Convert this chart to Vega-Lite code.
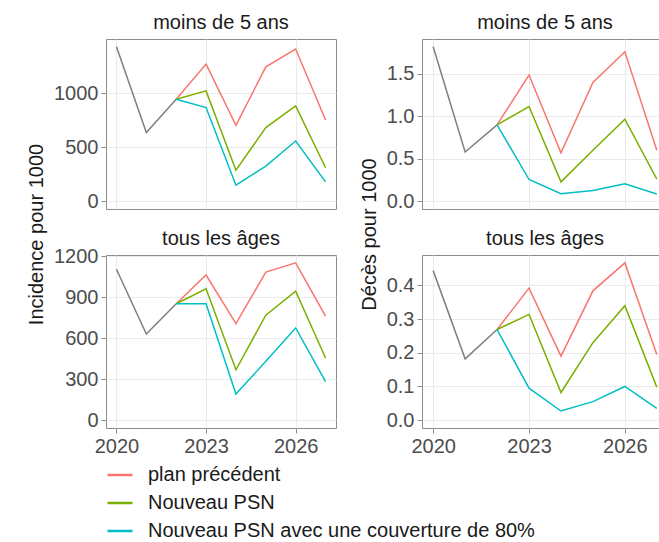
{
  "$schema": "https://vega.github.io/schema/vega-lite/v6.json",
  "padding": {"left": 27, "top": 12, "right": 0, "bottom": 0},
  "background": "white",
  "data": {"values": [
    {"panel": "iu5", "series": "historique", "year": 2020, "value": 1430},
    {"panel": "iu5", "series": "historique", "year": 2021, "value": 636},
    {"panel": "iu5", "series": "historique", "year": 2022, "value": 945},
    {"panel": "iu5", "series": "plan précédent", "year": 2022, "value": 945},
    {"panel": "iu5", "series": "plan précédent", "year": 2023, "value": 1270},
    {"panel": "iu5", "series": "plan précédent", "year": 2024, "value": 703},
    {"panel": "iu5", "series": "plan précédent", "year": 2025, "value": 1245},
    {"panel": "iu5", "series": "plan précédent", "year": 2026, "value": 1410},
    {"panel": "iu5", "series": "plan précédent", "year": 2027, "value": 753},
    {"panel": "iu5", "series": "Nouveau PSN", "year": 2022, "value": 945},
    {"panel": "iu5", "series": "Nouveau PSN", "year": 2023, "value": 1022},
    {"panel": "iu5", "series": "Nouveau PSN", "year": 2024, "value": 288},
    {"panel": "iu5", "series": "Nouveau PSN", "year": 2025, "value": 682},
    {"panel": "iu5", "series": "Nouveau PSN", "year": 2026, "value": 883},
    {"panel": "iu5", "series": "Nouveau PSN", "year": 2027, "value": 310},
    {"panel": "iu5", "series": "Nouveau PSN avec une couverture de 80%", "year": 2022, "value": 945},
    {"panel": "iu5", "series": "Nouveau PSN avec une couverture de 80%", "year": 2023, "value": 868},
    {"panel": "iu5", "series": "Nouveau PSN avec une couverture de 80%", "year": 2024, "value": 149},
    {"panel": "iu5", "series": "Nouveau PSN avec une couverture de 80%", "year": 2025, "value": 325},
    {"panel": "iu5", "series": "Nouveau PSN avec une couverture de 80%", "year": 2026, "value": 558},
    {"panel": "iu5", "series": "Nouveau PSN avec une couverture de 80%", "year": 2027, "value": 180},

    {"panel": "du5", "series": "historique", "year": 2020, "value": 1.82},
    {"panel": "du5", "series": "historique", "year": 2021, "value": 0.58},
    {"panel": "du5", "series": "historique", "year": 2022, "value": 0.90},
    {"panel": "du5", "series": "plan précédent", "year": 2022, "value": 0.90},
    {"panel": "du5", "series": "plan précédent", "year": 2023, "value": 1.486},
    {"panel": "du5", "series": "plan précédent", "year": 2024, "value": 0.57},
    {"panel": "du5", "series": "plan précédent", "year": 2025, "value": 1.40},
    {"panel": "du5", "series": "plan précédent", "year": 2026, "value": 1.76},
    {"panel": "du5", "series": "plan précédent", "year": 2027, "value": 0.60},
    {"panel": "du5", "series": "Nouveau PSN", "year": 2022, "value": 0.90},
    {"panel": "du5", "series": "Nouveau PSN", "year": 2023, "value": 1.116},
    {"panel": "du5", "series": "Nouveau PSN", "year": 2024, "value": 0.229},
    {"panel": "du5", "series": "Nouveau PSN", "year": 2025, "value": 0.60},
    {"panel": "du5", "series": "Nouveau PSN", "year": 2026, "value": 0.966},
    {"panel": "du5", "series": "Nouveau PSN", "year": 2027, "value": 0.26},
    {"panel": "du5", "series": "Nouveau PSN avec une couverture de 80%", "year": 2022, "value": 0.90},
    {"panel": "du5", "series": "Nouveau PSN avec une couverture de 80%", "year": 2023, "value": 0.256},
    {"panel": "du5", "series": "Nouveau PSN avec une couverture de 80%", "year": 2024, "value": 0.09},
    {"panel": "du5", "series": "Nouveau PSN avec une couverture de 80%", "year": 2025, "value": 0.126},
    {"panel": "du5", "series": "Nouveau PSN avec une couverture de 80%", "year": 2026, "value": 0.205},
    {"panel": "du5", "series": "Nouveau PSN avec une couverture de 80%", "year": 2027, "value": 0.085},

    {"panel": "ia", "series": "historique", "year": 2020, "value": 1103},
    {"panel": "ia", "series": "historique", "year": 2021, "value": 630},
    {"panel": "ia", "series": "historique", "year": 2022, "value": 851},
    {"panel": "ia", "series": "plan précédent", "year": 2022, "value": 851},
    {"panel": "ia", "series": "plan précédent", "year": 2023, "value": 1061},
    {"panel": "ia", "series": "plan précédent", "year": 2024, "value": 706},
    {"panel": "ia", "series": "plan précédent", "year": 2025, "value": 1083},
    {"panel": "ia", "series": "plan précédent", "year": 2026, "value": 1150},
    {"panel": "ia", "series": "plan précédent", "year": 2027, "value": 760},
    {"panel": "ia", "series": "Nouveau PSN", "year": 2022, "value": 851},
    {"panel": "ia", "series": "Nouveau PSN", "year": 2023, "value": 961},
    {"panel": "ia", "series": "Nouveau PSN", "year": 2024, "value": 368},
    {"panel": "ia", "series": "Nouveau PSN", "year": 2025, "value": 767},
    {"panel": "ia", "series": "Nouveau PSN", "year": 2026, "value": 943},
    {"panel": "ia", "series": "Nouveau PSN", "year": 2027, "value": 454},
    {"panel": "ia", "series": "Nouveau PSN avec une couverture de 80%", "year": 2022, "value": 851},
    {"panel": "ia", "series": "Nouveau PSN avec une couverture de 80%", "year": 2023, "value": 851},
    {"panel": "ia", "series": "Nouveau PSN avec une couverture de 80%", "year": 2024, "value": 191},
    {"panel": "ia", "series": "Nouveau PSN avec une couverture de 80%", "year": 2025, "value": 430},
    {"panel": "ia", "series": "Nouveau PSN avec une couverture de 80%", "year": 2026, "value": 674},
    {"panel": "ia", "series": "Nouveau PSN avec une couverture de 80%", "year": 2027, "value": 282},

    {"panel": "da", "series": "historique", "year": 2020, "value": 0.444},
    {"panel": "da", "series": "historique", "year": 2021, "value": 0.182},
    {"panel": "da", "series": "historique", "year": 2022, "value": 0.269},
    {"panel": "da", "series": "plan précédent", "year": 2022, "value": 0.269},
    {"panel": "da", "series": "plan précédent", "year": 2023, "value": 0.392},
    {"panel": "da", "series": "plan précédent", "year": 2024, "value": 0.19},
    {"panel": "da", "series": "plan précédent", "year": 2025, "value": 0.384},
    {"panel": "da", "series": "plan précédent", "year": 2026, "value": 0.467},
    {"panel": "da", "series": "plan précédent", "year": 2027, "value": 0.195},
    {"panel": "da", "series": "Nouveau PSN", "year": 2022, "value": 0.269},
    {"panel": "da", "series": "Nouveau PSN", "year": 2023, "value": 0.314},
    {"panel": "da", "series": "Nouveau PSN", "year": 2024, "value": 0.082},
    {"panel": "da", "series": "Nouveau PSN", "year": 2025, "value": 0.23},
    {"panel": "da", "series": "Nouveau PSN", "year": 2026, "value": 0.34},
    {"panel": "da", "series": "Nouveau PSN", "year": 2027, "value": 0.098},
    {"panel": "da", "series": "Nouveau PSN avec une couverture de 80%", "year": 2022, "value": 0.269},
    {"panel": "da", "series": "Nouveau PSN avec une couverture de 80%", "year": 2023, "value": 0.095},
    {"panel": "da", "series": "Nouveau PSN avec une couverture de 80%", "year": 2024, "value": 0.027},
    {"panel": "da", "series": "Nouveau PSN avec une couverture de 80%", "year": 2025, "value": 0.055},
    {"panel": "da", "series": "Nouveau PSN avec une couverture de 80%", "year": 2026, "value": 0.1},
    {"panel": "da", "series": "Nouveau PSN avec une couverture de 80%", "year": 2027, "value": 0.035}
  ]},
  "spacing": 22,
  "hconcat": [
    {
      "title": {"text": "Incidence pour 1000", "orient": "left", "anchor": "middle", "offset": 6},
      "spacing": 16,
      "vconcat": [
        {
          "width": 230, "height": 170,
          "title": "moins de 5 ans",
          "transform": [{"filter": "datum.panel === 'iu5'"}],
          "mark": {"type": "line", "strokeWidth": 1.5, "clip": true},
          "encoding": {
            "x": {"field": "year", "type": "quantitative", "scale": {"domain": [2019.65, 2027.35], "nice": false, "zero": false}, "axis": {"values": [2020, 2023, 2026], "format": "d", "title": null, "labels": false, "ticks": false}},
            "y": {"field": "value", "type": "quantitative", "scale": {"domain": [-71.5, 1502.5], "nice": false, "zero": false}, "axis": {"values": [0, 500, 1000], "format": "d", "title": null}},
            "color": {"field": "series", "type": "nominal", "scale": {"domain": ["plan précédent", "Nouveau PSN", "Nouveau PSN avec une couverture de 80%", "historique"], "range": ["#F8766D", "#7CAE00", "#00BFC4", "#7F7F7F"]}, "legend": {"values": ["plan précédent", "Nouveau PSN", "Nouveau PSN avec une couverture de 80%"]}}
          }
        },
        {
          "width": 230, "height": 173,
          "title": {"text": "tous les âges", "offset": -3},
          "transform": [{"filter": "datum.panel === 'ia'"}],
          "mark": {"type": "line", "strokeWidth": 1.5, "clip": true},
          "encoding": {
            "x": {"field": "year", "type": "quantitative", "scale": {"domain": [2019.65, 2027.35], "nice": false, "zero": false}, "axis": {"values": [2020, 2023, 2026], "format": "d", "title": null}},
            "y": {"field": "value", "type": "quantitative", "scale": {"domain": [-57.5, 1207.5], "nice": false, "zero": false}, "axis": {"values": [0, 300, 600, 900, 1200], "format": "d", "title": null}},
            "color": {"field": "series", "type": "nominal", "scale": {"domain": ["plan précédent", "Nouveau PSN", "Nouveau PSN avec une couverture de 80%", "historique"], "range": ["#F8766D", "#7CAE00", "#00BFC4", "#7F7F7F"]}, "legend": {"values": ["plan précédent", "Nouveau PSN", "Nouveau PSN avec une couverture de 80%"]}}
          }
        }
      ]
    },
    {
      "title": {"text": "Décès pour 1000", "orient": "left", "anchor": "middle", "offset": 6},
      "spacing": 16,
      "vconcat": [
        {
          "width": 246, "height": 170,
          "title": "moins de 5 ans",
          "transform": [{"filter": "datum.panel === 'du5'"}],
          "mark": {"type": "line", "strokeWidth": 1.5, "clip": true},
          "encoding": {
            "x": {"field": "year", "type": "quantitative", "scale": {"domain": [2019.65, 2027.35], "nice": false, "zero": false}, "axis": {"values": [2020, 2023, 2026], "format": "d", "title": null, "labels": false, "ticks": false}},
            "y": {"field": "value", "type": "quantitative", "scale": {"domain": [-0.091, 1.911], "nice": false, "zero": false}, "axis": {"values": [0, 0.5, 1, 1.5], "format": ".1f", "title": null}},
            "color": {"field": "series", "type": "nominal", "scale": {"domain": ["plan précédent", "Nouveau PSN", "Nouveau PSN avec une couverture de 80%", "historique"], "range": ["#F8766D", "#7CAE00", "#00BFC4", "#7F7F7F"]}, "legend": {"values": ["plan précédent", "Nouveau PSN", "Nouveau PSN avec une couverture de 80%"]}}
          }
        },
        {
          "width": 246, "height": 173,
          "title": "tous les âges",
          "transform": [{"filter": "datum.panel === 'da'"}],
          "mark": {"type": "line", "strokeWidth": 1.5, "clip": true},
          "encoding": {
            "x": {"field": "year", "type": "quantitative", "scale": {"domain": [2019.65, 2027.35], "nice": false, "zero": false}, "axis": {"values": [2020, 2023, 2026], "format": "d", "title": null}},
            "y": {"field": "value", "type": "quantitative", "scale": {"domain": [-0.0234, 0.4904], "nice": false, "zero": false}, "axis": {"values": [0, 0.1, 0.2, 0.3, 0.4], "format": ".1f", "title": null}},
            "color": {"field": "series", "type": "nominal", "scale": {"domain": ["plan précédent", "Nouveau PSN", "Nouveau PSN avec une couverture de 80%", "historique"], "range": ["#F8766D", "#7CAE00", "#00BFC4", "#7F7F7F"]}, "legend": {"values": ["plan précédent", "Nouveau PSN", "Nouveau PSN avec une couverture de 80%"]}}
          }
        }
      ]
    }
  ],
  "config": {
    "font": "Liberation Sans",
    "view": {"stroke": "#8C8C8C", "strokeWidth": 1},
    "axis": {
      "grid": true, "gridColor": "#EBEBEB", "gridWidth": 1.1,
      "domain": false,
      "tickColor": "#8C8C8C", "tickSize": 5,
      "labelColor": "#4D4D4D", "labelFontSize": 20, "labelPadding": 3,
      "titleColor": "#1A1A1A", "titleFontSize": 20, "titleFontWeight": "normal", "titlePadding": 7
    },
    "axisX": {"labelFlush": false},
    "title": {"fontSize": 20, "fontWeight": "normal", "color": "#1A1A1A", "offset": 6},
    "legend": {
      "orient": "bottom", "direction": "vertical", "title": null,
      "labelFontSize": 20, "labelColor": "#1A1A1A", "labelLimit": 600,
      "symbolType": "stroke", "symbolSize": 625, "symbolStrokeWidth": 2.5,
      "labelOffset": 14, "rowPadding": 4, "offset": 4
    }
  }
}
